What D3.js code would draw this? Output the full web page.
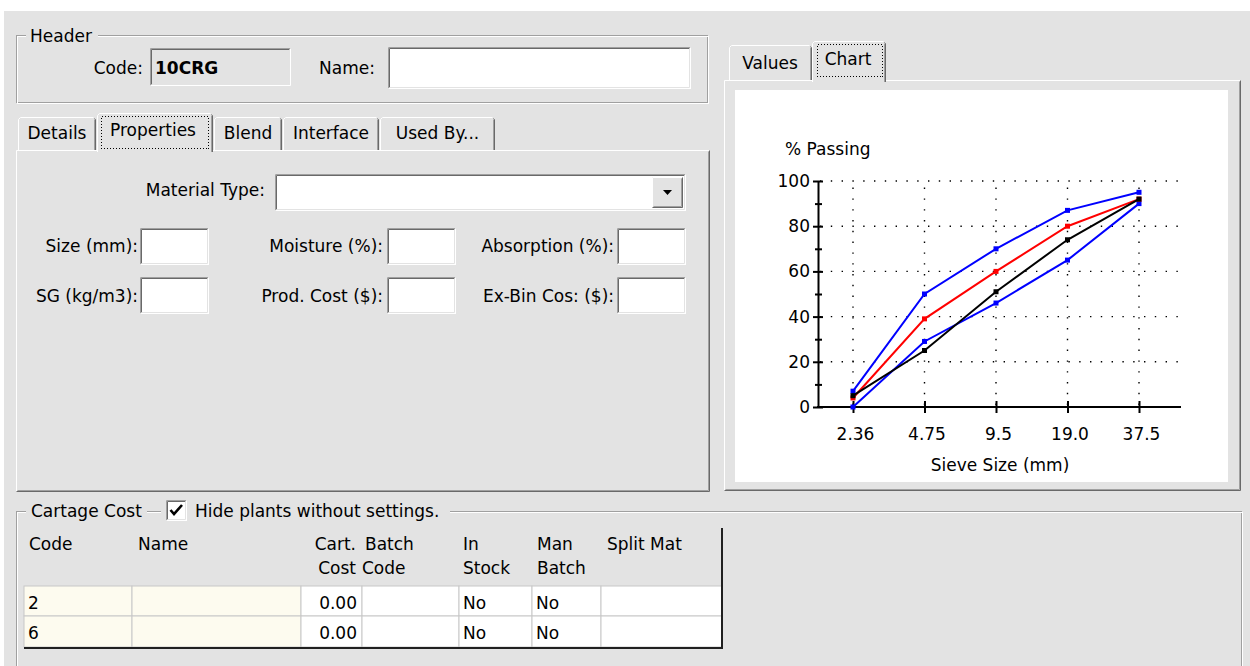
<!DOCTYPE html>
<html>
<head>
<meta charset="utf-8">
<script src="https://cdn.jsdelivr.net/npm/d3@7"></script>
<style>
  html, body { margin: 0; padding: 0; background: #e3e3e3; overflow: hidden; }
  svg { display: block; font-family: "DejaVu Sans", sans-serif; font-size: 17px; }
</style>
</head>
<body>
<svg id="form"></svg>
<script>
// grading chart data
const sieveSizes = ["2.36", "4.75", "9.5", "19.0", "37.5"];
const upperLimit = [7, 50, 70, 87, 95];
const lowerLimit = [0, 29, 46, 65, 90];
const targetGrading = [4, 39, 60, 80, 92];
const actualGrading = [5, 25, 51, 74, 92];
const passingTicks = [0, 20, 40, 60, 80, 100];
const passingMinor = [10, 30, 50, 70, 90];

// form texts
const leftTabs = ["Details", "Properties", "Blend", "Interface", "Used By..."];
const rightTabs = ["Values", "Chart"];
const propRow1 = ["Size (mm):", "Moisture (%):", "Absorption (%):"];
const propRow2 = ["SG (kg/m3):", "Prod. Cost ($):", "Ex-Bin Cos: ($):"];
const tableHeaders = [["Code"], ["Name"], ["Cart.", "Cost"], ["Batch", "Code"], ["In", "Stock"], ["Man", "Batch"], ["Split Mat"]];
const tableRows = [
  ["2", "", "0.00", "", "No", "No", ""],
  ["6", "", "0.00", "", "No", "No", ""]
];

const W = 1250, H = 666;
const BG = "#e3e3e3";
const svg = d3.select("#form").attr("width", W).attr("height", H);

svg.append("rect").attr("width", W).attr("height", H).attr("fill", BG);
svg.append("rect").attr("width", W).attr("height", 11).attr("fill", "#fff");
svg.append("rect").attr("width", 4).attr("height", H).attr("fill", "#fff");

function edge(g, x, y, w, h, tl, br) {
  g.append("path").attr("fill", "none").attr("stroke", tl)
    .attr("d", `M${x + .5},${y + h - .5}V${y + .5}H${x + w - .5}`);
  g.append("path").attr("fill", "none").attr("stroke", br)
    .attr("d", `M${x + .5},${y + h - .5}H${x + w - .5}V${y + .5}`);
}
function sunken(x, y, w, h, fill) {
  svg.append("rect").attr("x", x).attr("y", y).attr("width", w).attr("height", h).attr("fill", fill);
  edge(svg, x, y, w, h, "#a0a0a0", "#fff");
  edge(svg, x + 1, y + 1, w - 2, h - 2, "#696969", BG);
}
function raised(x, y, w, h, fill) {
  svg.append("rect").attr("x", x).attr("y", y).attr("width", w).attr("height", h).attr("fill", fill);
  edge(svg, x, y, w, h, "#fff", "#696969");
  edge(svg, x + 1, y + 1, w - 2, h - 2, BG, "#a0a0a0");
}
function group(x, y, w, h) {
  svg.append("rect").attr("x", x + .5).attr("y", y + .5).attr("width", w - 2).attr("height", h - 2)
    .attr("fill", "none").attr("stroke", "#a0a0a0");
  svg.append("rect").attr("x", x + 1.5).attr("y", y + 1.5).attr("width", w - 2).attr("height", h - 2)
    .attr("fill", "none").attr("stroke", "#fff");
}
function label(x, y, t, anchor, weight) {
  return svg.append("text").attr("x", x).attr("y", y).attr("text-anchor", anchor || "start")
    .attr("font-weight", weight || "normal").attr("fill", "#000").text(t);
}
function tab(x, y, w, h) {
  svg.append("rect").attr("x", x).attr("y", y).attr("width", w).attr("height", h).attr("fill", BG);
  svg.append("path").attr("fill", "none").attr("stroke", "#fff")
    .attr("d", `M${x + .5},${y + h}V${y + 2.5}L${x + 2.5},${y + .5}H${x + w - 2.5}`);
  svg.append("path").attr("fill", "none").attr("stroke", "#696969")
    .attr("d", `M${x + w - 1.5},${y + 1.5}L${x + w - .5},${y + 2.5}V${y + h}`);
  svg.append("path").attr("fill", "none").attr("stroke", "#a0a0a0")
    .attr("d", `M${x + w - 1.5},${y + 2.5}V${y + h}`);
}
function focus(x, y, w, h) {
  svg.append("rect").attr("x", x + .5).attr("y", y + .5).attr("width", w).attr("height", h)
    .attr("fill", "none").attr("stroke", "#000").attr("stroke-dasharray", "1,2")
    .attr("shape-rendering", "crispEdges");
}

// ---- Header group
group(16, 35, 693, 69);
svg.append("rect").attr("x", 26).attr("y", 26).attr("width", 72).attr("height", 20).attr("fill", BG);
label(30, 42, "Header");
label(143, 74, "Code:", "end");
sunken(150, 48, 141, 38, BG);
label(155, 74, "10CRG", "start", "bold");
label(375, 74, "Name:", "end");
sunken(388, 47, 303, 42, "#fff");

// ---- Left tab control
raised(16, 150, 694, 342, BG);
const leftTabX = [18, 97, 214, 283, 380, 496];
leftTabs.forEach((t, i) => {
  if (i === 1) return;
  tab(leftTabX[i], 117, leftTabX[i + 1] - leftTabX[i] - 1, 33);
  label((leftTabX[i] + leftTabX[i + 1] - 1) / 2, 139, t, "middle");
});
tab(97, 113, 116, 39);
label(153, 136, leftTabs[1], "middle");
focus(101, 116, 107, 32);

label(265, 196, "Material Type:", "end");
sunken(275, 174, 411, 37, "#fff");
raised(652, 177, 31, 31, BG);
svg.append("path").attr("d", "M663,190h9l-4.5,5z").attr("fill", "#000");

const boxX = [140, 387, 617];
const labelEnd = [138, 383, 614];
propRow1.forEach((t, i) => { label(labelEnd[i], 252, t, "end"); sunken(boxX[i], 228, 69, 37, "#fff"); });
propRow2.forEach((t, i) => { label(labelEnd[i], 302, t, "end"); sunken(boxX[i], 277, 69, 37, "#fff"); });

// ---- Right tab control
raised(724, 80, 517, 411, BG);
tab(729, 45, 83, 35);
label(770, 69, rightTabs[0], "middle");
tab(812, 41, 74, 41);
label(848, 65, rightTabs[1], "middle");
focus(817, 44, 65, 32);
svg.append("rect").attr("x", 735).attr("y", 90).attr("width", 493).attr("height", 392).attr("fill", "#fff");

// ---- Chart
const cx = d3.scalePoint().domain(sieveSizes).range([853, 1139]);
const cy = d3.scaleLinear().domain([0, 100]).range([407, 181]);
const chart = svg.append("g");

chart.append("g").selectAll("line").data(passingTicks.slice(1)).join("line")
  .attr("x1", 820).attr("x2", 1181).attr("y1", d => cy(d)).attr("y2", d => cy(d))
  .attr("stroke", "#000").attr("stroke-width", 1.4).attr("stroke-dasharray", "1.4,9.4");
chart.append("g").selectAll("line").data(sieveSizes).join("line")
  .attr("x1", d => cx(d)).attr("x2", d => cx(d)).attr("y1", cy(0) - 2).attr("y2", cy(100))
  .attr("stroke", "#000").attr("stroke-width", 1.4).attr("stroke-dasharray", "1.4,9.4");

const yAxis = chart.append("g").attr("transform", "translate(818,0)")
  .call(d3.axisLeft(cy).tickValues(passingTicks).tickSize(5).tickSizeOuter(0).tickPadding(3));
yAxis.selectAll(".tick line").attr("x1", 5).attr("stroke-width", 2);
yAxis.select(".domain").attr("stroke-width", 2);
yAxis.selectAll("text").attr("font-family", "DejaVu Sans").attr("font-size", 17).attr("fill", "#000");

const yMinor = chart.append("g").attr("transform", "translate(818,0)")
  .call(d3.axisLeft(cy).tickValues(passingMinor).tickSize(3).tickFormat(() => ""));
yMinor.select(".domain").remove();
yMinor.selectAll(".tick line").attr("x1", 4).attr("stroke-width", 2);

chart.append("line").attr("x1", 817).attr("x2", 1181).attr("y1", cy(0)).attr("y2", cy(0))
  .attr("stroke", "#000").attr("stroke-width", 2);
const xAxis = chart.append("g").attr("transform", `translate(0,${cy(0)})`)
  .call(d3.axisBottom(cx).tickSize(6).tickSizeOuter(0));
xAxis.select(".domain").remove();
xAxis.selectAll(".tick line").attr("y1", -6).attr("stroke-width", 2);
xAxis.selectAll("text").attr("y", 33).attr("dy", 0).attr("dx", 2)
  .attr("font-family", "DejaVu Sans").attr("font-size", 17).attr("fill", "#000");

chart.append("text").attr("x", 785).attr("y", 155).text("% Passing");
chart.append("text").attr("x", 1000).attr("y", 471).attr("text-anchor", "middle").text("Sieve Size (mm)");

const series = [
  { values: lowerLimit, color: "#0000ff" },
  { values: upperLimit, color: "#0000ff" },
  { values: targetGrading, color: "#ff0000" },
  { values: actualGrading, color: "#000000" }
];
const line = d3.line().x((d, i) => cx(sieveSizes[i])).y(d => cy(d));
series.forEach(s => {
  chart.append("path").datum(s.values).attr("d", line)
    .attr("fill", "none").attr("stroke", s.color).attr("stroke-width", 2);
  chart.append("g").selectAll("rect").data(s.values).join("rect")
    .attr("x", (d, i) => cx(sieveSizes[i]) - 2.5).attr("y", d => cy(d) - 2.5)
    .attr("width", 5).attr("height", 5).attr("fill", s.color);
});

// ---- Cartage Cost group
group(16, 511, 1227, 170);
svg.append("rect").attr("x", 26).attr("y", 500).attr("width", 121).attr("height", 22).attr("fill", BG);
svg.append("rect").attr("x", 161).attr("y", 498).attr("width", 289).attr("height", 26).attr("fill", BG);
label(31, 517, "Cartage Cost");
sunken(166, 500, 21, 21, "#fff");
svg.append("path").attr("d", "M170.5,510l3.5,4l8,-9").attr("fill", "none")
  .attr("stroke", "#000").attr("stroke-width", 2.6);
label(195, 517, "Hide plants without settings.");

const colX = [24, 132, 301, 362, 459, 532, 601, 722];
const rowY = [586, 616, 647];
const headX = [29, 138, 356, 365, 463, 537, 607];
const headAnchor = ["start", "start", "end", "start", "start", "start", "start"];
tableHeaders.forEach((lines, i) => {
  lines.forEach((t, j) => label(headX[i] + (i === 3 && j === 1 ? -3 : 0), 550 + j * 24, t, headAnchor[i]));
});
tableRows.forEach((row, r) => {
  row.forEach((v, c) => {
    svg.append("rect").attr("x", colX[c]).attr("y", rowY[r]).attr("width", colX[c + 1] - colX[c])
      .attr("height", rowY[r + 1] - rowY[r]).attr("fill", c < 2 ? "#fdfbef" : "#fff")
      .attr("stroke", "#c8c8c8").attr("stroke-width", 1);
    const isNum = c === 2;
    label(isNum ? colX[c + 1] - 5 : colX[c] + 4, rowY[r] + 23, v, isNum ? "end" : "start");
  });
});
svg.append("path").attr("fill", "none").attr("stroke", "#202020").attr("stroke-width", 2)
  .attr("d", `M24,648H722V528`);
</script>
</body>
</html>
